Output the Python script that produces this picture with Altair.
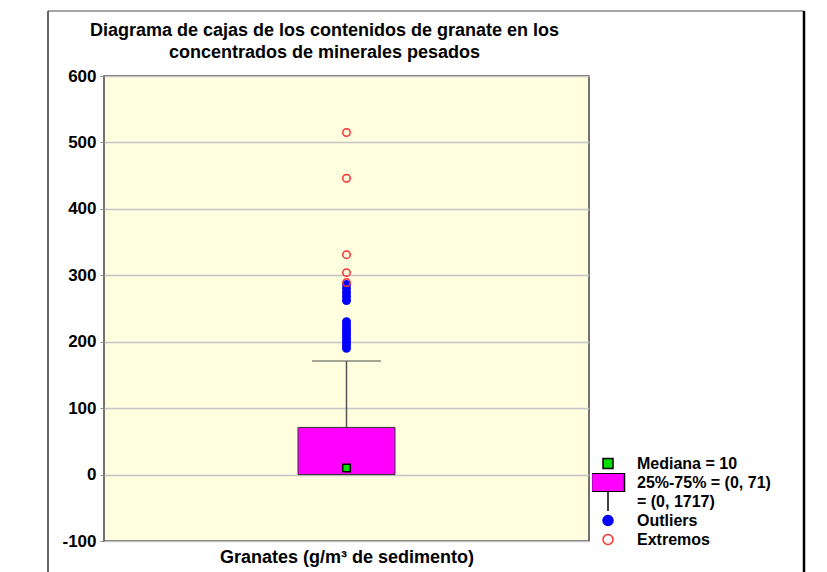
import altair as alt
import pandas as pd

# ---- data ----
variable = ["Granates"]
q1 = [0]
q3 = [71]
mediana = [10]
bigote_min = [0]
bigote_max = [171]
outliers = [286, 280, 274, 268, 262, 230, 225, 220, 215, 210, 205, 200, 195, 190]
extremos = [515, 446, 331, 304, 289]
leyenda = ["Mediana = 10", "25%-75% = (0, 71)", "= (0, 1717)", "Outliers", "Extremos"]
y_ticks = [-100, 0, 100, 200, 300, 400, 500, 600]

FONT = "Liberation Sans"

box_df = pd.DataFrame({"var": variable, "q1": q1, "q3": q3, "med": mediana,
                       "wmin": bigote_min, "wmax": bigote_max})

pts = [{"var": variable[0], "valor": mediana[0], "tipo": leyenda[0]}]
pts += [{"var": variable[0], "valor": v, "tipo": leyenda[3]} for v in outliers]
pts += [{"var": variable[0], "valor": v, "tipo": leyenda[4]} for v in extremos]
pts_df = pd.DataFrame(pts)

# entries only needed for the legend (hidden under the box)
leg_df = pd.DataFrame({"var": variable * 2,
                       "valor": [(q1[0] + q3[0]) / 2] * 2,
                       "tipo": [leyenda[1], leyenda[2]]})

box_path = "M-3.3,-1.85H3.3V1.85H-3.3Z"
whisk_path = "M-3.3,-2.1H3.3M0,-2.1V2.1M-3.3,2.1H3.3"

shape_scale = alt.Scale(domain=leyenda, range=["square", box_path, whisk_path, "circle", "circle"])
fill_scale = alt.Scale(domain=leyenda, range=["#00E000", "#FF00FF", "transparent", "#0000FF", "transparent"])
stroke_scale = alt.Scale(domain=leyenda, range=["#000000", "#000000", "#000000", "#0000FF", "#FF3030"])

legend = alt.Legend(title=None, orient="none", legendX=488, legendY=378,
                    labelFont=FONT, labelFontSize=16, labelFontWeight="bold",
                    labelColor="black", labelLimit=300, labelOffset=21,
                    symbolOffset=8, rowPadding=0, clipHeight=19,
                    symbolStrokeWidth=1.5, padding=0, gridAlign="all")

x_enc = alt.X("var:N", scale=alt.Scale(paddingInner=0, paddingOuter=0),
              axis=alt.Axis(title="Granates (g/m³ de sedimento)", labels=False, ticks=False,
                            domain=False, titleFont=FONT, titleFontSize=18,
                            titleFontWeight="bold", titleColor="black", titlePadding=7))
y_scale = alt.Scale(domain=[-100, 600], nice=False, zero=False)
y_axis = alt.Axis(values=y_ticks, grid=True, gridColor="#C4C4C4", gridWidth=1.5,
                  domain=False, tickColor="#888888", tickSize=4, labelFont=FONT,
                  labelFontSize=17, labelFontWeight="bold", labelColor="black",
                  labelPadding=4, title=None, labelExpr="'' + datum.value")

base = alt.Chart(box_df)

leg_pts = alt.Chart(leg_df).mark_point(size=56, strokeWidth=1.5, opacity=1).encode(
    x=x_enc,
    y=alt.Y("valor:Q", scale=y_scale, axis=y_axis),
    shape=alt.Shape("tipo:N", scale=shape_scale, legend=legend),
    fill=alt.Fill("tipo:N", scale=fill_scale, legend=legend),
    stroke=alt.Stroke("tipo:N", scale=stroke_scale, legend=legend),
)

whisker = base.mark_rule(color="#555555", strokeWidth=1.5).encode(
    x="var:N", y=alt.Y("q3:Q"), y2="wmax:Q")
cap = base.mark_tick(color="#555555", size=69, thickness=1.5).encode(
    x="var:N", y=alt.Y("wmax:Q"))
box = base.mark_bar(width=alt.RelativeBandSize(0.2), color="#FF00FF",
                    stroke="#333333", strokeWidth=1).encode(
    x="var:N", y=alt.Y("q1:Q"), y2="q3:Q")

points = alt.Chart(pts_df).mark_point(size=56, strokeWidth=1.5, opacity=1).encode(
    x="var:N",
    y=alt.Y("valor:Q"),
    shape=alt.Shape("tipo:N", scale=shape_scale, legend=legend),
    fill=alt.Fill("tipo:N", scale=fill_scale, legend=legend),
    stroke=alt.Stroke("tipo:N", scale=stroke_scale, legend=legend),
)

frame_src = alt.Chart(pd.DataFrame({"f": [0]}))
frame_top = frame_src.mark_rule(color="#888888", strokeWidth=1.5).encode(
    x=alt.value(-56), x2=alt.value(700), y=alt.value(-65), y2=alt.value(-65))
frame_left = frame_src.mark_rule(color="#333333", strokeWidth=1.5).encode(
    x=alt.value(-56), x2=alt.value(-56), y=alt.value(-65), y2=alt.value(505))
frame_right = frame_src.mark_rule(color="#000000", strokeWidth=2.5).encode(
    x=alt.value(700), x2=alt.value(700), y=alt.value(-65), y2=alt.value(505))

chart = alt.layer(leg_pts, whisker, box, cap, points, frame_top, frame_left, frame_right).properties(
    width=485, height=465,
    padding={"left": 39, "top": 1, "right": 0, "bottom": 0},
    title=alt.TitleParams(
        text=["Diagrama de cajas de los contenidos de granate en los",
              "concentrados de minerales pesados"],
        font=FONT, fontSize=18, fontWeight="bold", color="black",
        anchor="middle", frame="group", dx=-22, offset=-52, lineHeight=22),
).configure_view(fill="#FFFFE0", stroke="#444444", strokeWidth=1.5)

chart.save("out.html", embed_options={"renderer": "svg", "actions": False})
